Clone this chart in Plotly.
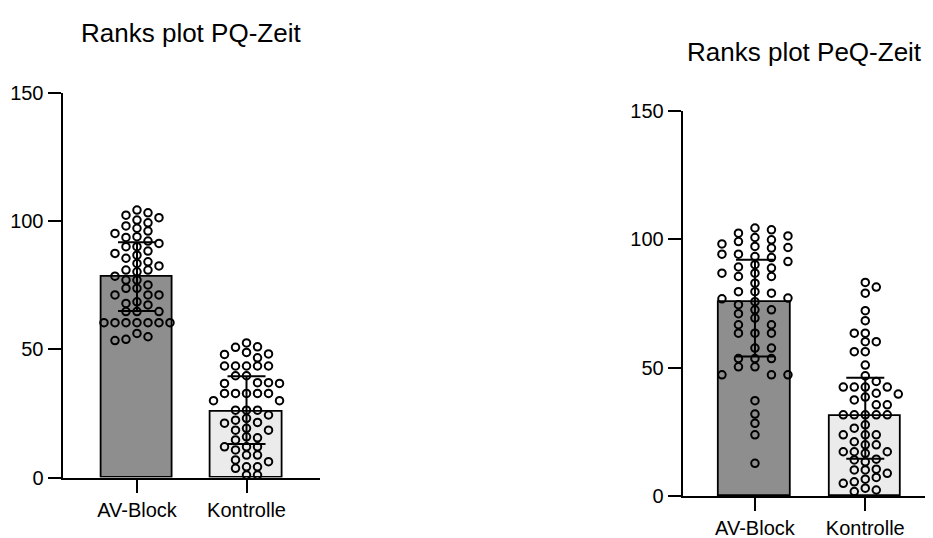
import numpy as np
import plotly.graph_objects as go

# ---------------- data ----------------
categories = ["AV-Block", "Kontrolle"]
titles = ["Ranks plot PQ-Zeit", "Ranks plot PeQ-Zeit"]
yticks = [0, 50, 100, 150]

pq_av = [104.3, 103.2, 102.3, 101.3, 100.4, 99.3, 98.1, 97.2, 96.1, 95.2,
         93.9, 93.6, 92.2, 91.3, 90.0, 90.0, 88.3, 87.4, 86.7, 85.5,
         84.1, 83.5, 82.5, 80.9, 80.9, 80.2, 78.5, 77.0, 77.0, 75.1,
         73.8, 73.8, 71.2, 71.2, 71.2, 68.5, 67.9, 67.3, 64.7, 64.7,
         64.7, 60.4, 60.4, 60.4, 60.4, 60.4, 60.4, 60.4, 56.2, 54.9,
         53.9, 53.4]
pq_kontrolle = [52.5, 51.0, 50.8, 48.8, 48.2, 48.0, 46.7, 43.5, 43.5, 43.5,
                43.5, 43.5, 39.7, 39.7, 37.0, 37.0, 36.7, 36.7, 32.8, 32.8,
                32.8, 32.8, 32.8, 30.0, 30.0, 26.3, 26.3, 26.3, 24.4, 23.1,
                22.4, 21.5, 21.2, 19.2, 18.5, 18.5, 15.9, 15.5, 14.7, 12.0,
                12.0, 12.0, 10.8, 8.8, 8.8, 6.9, 6.2, 4.2, 4.2, 3.6,
                1.0, 1.0]
peq_av = [104.4, 103.7, 102.4, 101.3, 100.7, 99.8, 99.1, 98.2, 97.2, 96.8,
          96.6, 94.2, 94.2, 93.3, 92.9, 91.3, 90.1, 89.2, 88.8, 86.8,
          86.8, 85.5, 85.5, 82.9, 79.6, 79.6, 79.0, 77.1, 76.8, 75.7,
          74.5, 72.5, 72.5, 71.0, 69.3, 66.7, 66.7, 63.4, 63.4, 63.4,
          57.6, 57.6, 53.5, 53.5, 53.5, 50.3, 50.3, 47.2, 47.2, 47.2,
          37.1, 31.9, 28.3, 23.8, 12.7]
peq_kontrolle = [83.2, 81.4, 79.0, 72.2, 68.3, 63.4, 63.4, 60.1, 60.1, 56.2,
                 56.2, 51.0, 46.8, 44.6, 42.4, 42.4, 42.4, 42.4, 40.0, 39.7,
                 38.5, 37.4, 35.5, 35.5, 31.6, 31.6, 31.6, 31.6, 31.6, 27.7,
                 26.4, 23.8, 23.8, 23.8, 21.1, 19.9, 19.9, 17.2, 17.2, 17.2,
                 16.6, 14.3, 14.0, 13.3, 10.4, 10.1, 10.1, 8.8, 7.2, 6.5,
                 5.5, 4.9, 3.0, 2.3, 1.7]

# bar = median, error bar = interquartile range
pq_median = [78.3, 25.8]
pq_q1 = [64.9, 13.1]
pq_q3 = [91.7, 39.5]
peq_median = [75.7, 31.2]
peq_q1 = [54.3, 14.5]
peq_q3 = [92.0, 46.0]

# ---------------- layout geometry ----------------
# The page body keeps its default 8px margin, so the figure is drawn
# 8px in from the window's top-left corner; size it to fill the rest.
PAD = 8
WIN_W, WIN_H = 933, 538
W, H = WIN_W - PAD, WIN_H - PAD
FONT = "Liberation Sans, Arial, Helvetica, sans-serif"
BAR_COLORS = ["#8e8e8e", "#ebebeb"]

# geometry below is given in window pixels
panels = [
    dict(xpx=(62.5, 320.0), ypx=(92.8, 477.6), xrange=(-0.68, 1.671),
         groups=[pq_av, pq_kontrolle], med=pq_median, q1=pq_q1, q3=pq_q3,
         title=titles[0], title_xy=(191, 33)),
    dict(xpx=(682.7, 933.0), ypx=(111.0, 495.9), xrange=(-0.655, 1.614),
         groups=[peq_av, peq_kontrolle], med=peq_median, q1=peq_q1, q3=peq_q3,
         title=titles[1], title_xy=(804, 52)),
]


def fx(px):
    return min(1.0, max(0.0, (px - PAD) / W))


def fy(py):
    return min(1.0, max(0.0, 1 - (py - PAD) / H))


def swarm_slots(values, px_per_unit, d_px=8.0):
    """Greedy column-slot swarm: each point goes to the slot nearest the
    centre where it does not collide with points already in that slot."""
    vals = np.asarray(values, dtype=float)
    order = np.argsort(-vals, kind="stable")
    placed = {}
    slots = np.zeros(len(vals), dtype=int)
    for i in order:
        ypx = vals[i] * px_per_unit
        cands = [0]
        for m in range(1, 12):
            pair = [m, -m]
            pair.sort(key=lambda c: len(placed.get(c, [])))
            cands += pair
        for c in cands:
            if all(abs(ypx - yy) >= d_px for yy in placed.get(c, [])):
                slots[i] = c
                placed.setdefault(c, []).append(ypx)
                break
    return slots


fig = go.Figure()
axis_common = dict(showline=True, linecolor="black", linewidth=2,
                   ticks="outside", ticklen=13, tickwidth=2, tickcolor="black",
                   showgrid=False, zeroline=False, automargin=False,
                   tickfont=dict(family=FONT, size=20, color="black"))

for p_i, P in enumerate(panels):
    sfx = "" if p_i == 0 else str(p_i + 1)
    xa, ya = "x" + sfx, "y" + sfx
    x0, x1 = P["xpx"]
    yt, yb = P["ypx"]
    px_per_x = (x1 - x0) / (P["xrange"][1] - P["xrange"][0])
    px_per_y = (yb - yt) / 150.0
    xpos = list(range(len(categories)))

    fig.add_trace(go.Bar(x=xpos, y=P["med"], width=0.65,
                         marker=dict(color=BAR_COLORS,
                                     line=dict(color="black", width=1.8)),
                         xaxis=xa, yaxis=ya, showlegend=False,
                         hoverinfo="skip"))

    for g_i, vals in enumerate(P["groups"]):
        slots = swarm_slots(vals, px_per_y)
        kmax = max(1, int(np.max(np.abs(slots))))
        spacing_px = min(16.5, 33.0 / kmax)
        xs = g_i + slots * spacing_px / px_per_x
        fig.add_trace(go.Scatter(
            x=xs, y=vals, mode="markers", xaxis=xa, yaxis=ya,
            marker=dict(symbol="circle-open", size=7.5, color="black",
                        line=dict(color="black", width=2)),
            cliponaxis=False, showlegend=False, hoverinfo="skip"))

    med = np.array(P["med"])
    fig.add_trace(go.Scatter(
        x=xpos, y=med, mode="markers", xaxis=xa, yaxis=ya,
        marker=dict(size=1, opacity=0),
        error_y=dict(type="data", symmetric=False,
                     array=np.array(P["q3"]) - med,
                     arrayminus=med - np.array(P["q1"]),
                     color="black", thickness=2, width=19),
        cliponaxis=False, showlegend=False, hoverinfo="skip"))

    fig.layout["xaxis" + sfx] = dict(
        domain=[fx(x0), fx(x1)], range=list(P["xrange"]),
        anchor=ya, tickvals=xpos, ticktext=categories, fixedrange=True,
        **axis_common)
    fig.layout["yaxis" + sfx] = dict(
        domain=[fy(yb), fy(yt)], range=[0, 150], anchor=xa,
        tickvals=yticks, fixedrange=True, **axis_common)

    tx, ty = P["title_xy"]
    fig.add_annotation(text=P["title"], x=fx(tx), y=fy(ty),
                       xref="paper", yref="paper", xanchor="center",
                       yanchor="middle", showarrow=False,
                       font=dict(family=FONT, size=26, color="black"))

fig.update_layout(width=W, height=H, margin=dict(l=0, r=0, t=0, b=0),
                  plot_bgcolor="white", paper_bgcolor="white",
                  bargap=0, showlegend=False)

fig.write_html("out.html")
